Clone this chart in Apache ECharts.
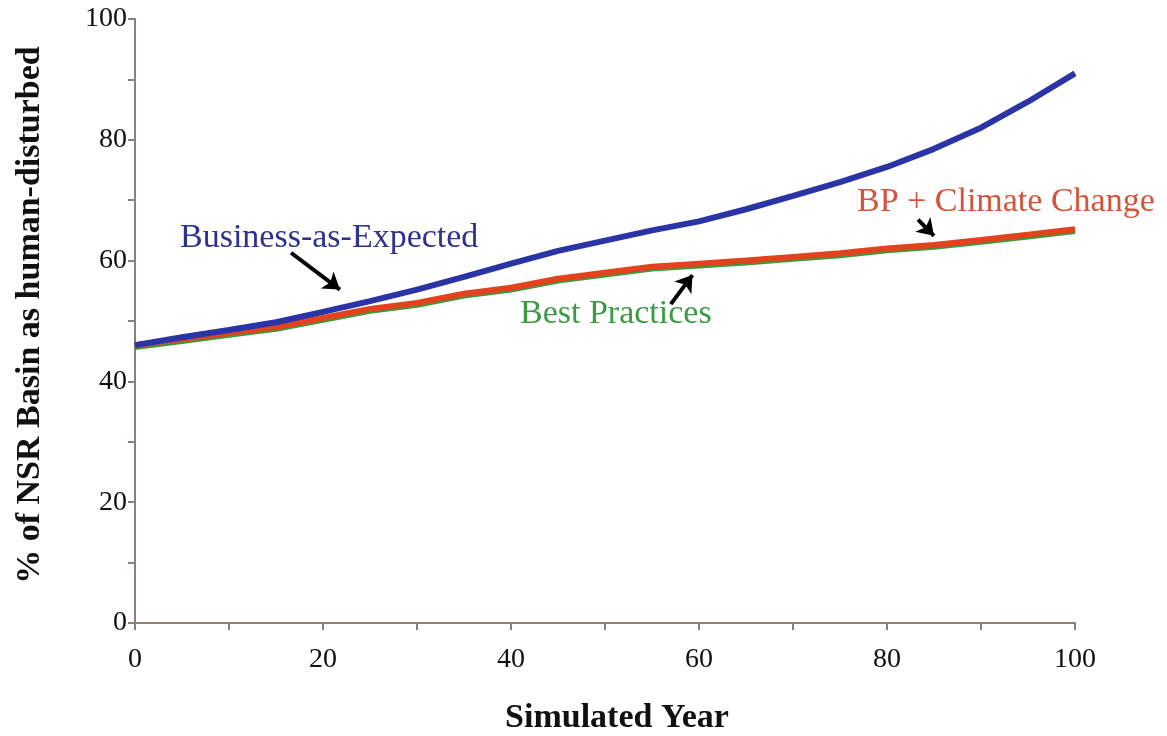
<!DOCTYPE html>
<html lang="en">
<head>
<meta charset="UTF-8">
<style>
    html, body { height: 100%; margin: 0; background: #fff; }
</style>
</head>
<body>
<div id="chart" style="width:1167px;height:736px;"></div>
<script src="https://cdn.jsdelivr.net/npm/echarts@6/dist/echarts.min.js"></script>
<script>
    // simulated years and % of basin disturbed for each scenario
    var years = [0, 5, 10, 15, 20, 25, 30, 35, 40, 45, 50, 55, 60, 65, 70, 75, 80, 85, 90, 95, 100];
    var businessAsExpected = [46, 47.3, 48.5, 49.8, 51.5, 53.3, 55.2, 57.3, 59.5, 61.6, 63.3, 65, 66.5, 68.5, 70.7, 73, 75.5, 78.5, 82, 86.3, 91];
    var bestPractices = [45.7, 46.7, 47.7, 48.7, 50.2, 51.7, 52.7, 54.2, 55.2, 56.7, 57.7, 58.7, 59.2, 59.7, 60.3, 60.9, 61.7, 62.3, 63.1, 64, 64.9];
    var bpClimate = [46, 47, 48, 49, 50.5, 52, 53, 54.5, 55.5, 57, 58, 59, 59.5, 60, 60.6, 61.2, 62, 62.6, 63.4, 64.3, 65.2];
    var xTicks = [0, 20, 40, 60, 80, 100];
    var yTicks = [0, 20, 40, 60, 80, 100];

    function pairs(vals) {
        var out = [];
        for (var i = 0; i < years.length; i++) {
            out.push([years[i], vals[i]]);
        }
        return out;
    }

    var serif = '"Liberation Serif", "Times New Roman", serif';
    var axisColor = '#8a7f7c';

    var myChart = echarts.init(document.getElementById('chart'));
    myChart.setOption({
        animation: false,
        grid: { left: 135, right: 92, top: 19, bottom: 113, outerBoundsMode: 'none', containLabel: false },
        xAxis: {
            type: 'value',
            min: 0, max: 100, interval: 10,
            name: 'Simulated Year',
            nameLocation: 'middle',
            nameGap: 78,
            nameTextStyle: { fontFamily: serif, fontWeight: 'bold', fontSize: 34, color: '#111', padding: [0, 0, 0, 24] },
            axisLine: { lineStyle: { color: axisColor, width: 2 } },
            axisTick: { show: true, length: 7, lineStyle: { color: axisColor, width: 2 } },
            splitLine: { show: false },
            axisLabel: {
                fontFamily: serif, fontSize: 28, color: '#111', margin: 23,
                formatter: function (v) { return xTicks.indexOf(v) >= 0 ? v : ''; }
            }
        },
        yAxis: {
            type: 'value',
            min: 0, max: 100, interval: 10,
            axisLine: { show: true, lineStyle: { color: axisColor, width: 2 } },
            axisTick: { show: true, length: 7, lineStyle: { color: axisColor, width: 2 } },
            splitLine: { show: false },
            axisLabel: {
                fontFamily: serif, fontSize: 28, color: '#111', margin: 8,
                formatter: function (v) { return yTicks.indexOf(v) >= 0 ? v : ''; }
            }
        },
        series: [
            {
                name: 'Best Practices', type: 'line', data: pairs(bestPractices),
                showSymbol: false, lineStyle: { color: '#3c9a3a', width: 6 }
            },
            {
                name: 'BP + Climate Change', type: 'line', data: pairs(bpClimate),
                showSymbol: false, lineStyle: { color: '#e2421d', width: 6 }
            },
            {
                name: 'Business-as-Expected', type: 'line', data: pairs(businessAsExpected),
                showSymbol: false, lineStyle: { color: '#2b34a6', width: 6 },
                markLine: {
                    silent: true,
                    symbol: ['none', 'arrow'],
                    symbolSize: 16,
                    label: { show: false },
                    lineStyle: { color: '#000', width: 4, type: 'solid' },
                    data: [
                        [{ coord: [16.6, 61.3] }, { coord: [21.8, 55.2] }],
                        [{ coord: [57, 52.8] }, { coord: [59.3, 57.6] }],
                        [{ coord: [83.3, 66.8] }, { coord: [85, 64.1] }]
                    ]
                }
            }
        ],
        graphic: [
            {
                // y axis title
                type: 'text', x: 30, y: 315, rotation: Math.PI / 2,
                style: {
                    text: '% of NSR Basin as human-disturbed',
                    font: 'bold 34px ' + serif, fill: '#111',
                    textAlign: 'center', textVerticalAlign: 'middle'
                }
            },
            {
                type: 'text', x: 180, y: 238,
                style: { text: 'Business-as-Expected', font: '34px ' + serif, fill: '#2f3090', textVerticalAlign: 'middle' }
            },
            {
                type: 'text', x: 520, y: 314,
                style: { text: 'Best Practices', font: '34px ' + serif, fill: '#3b9a44', textVerticalAlign: 'middle' }
            },
            {
                type: 'text', x: 857, y: 202,
                style: { text: 'BP + Climate Change', font: '34px ' + serif, fill: '#d4553c', textVerticalAlign: 'middle' }
            }
        ]
    });
</script>
</body>
</html>
